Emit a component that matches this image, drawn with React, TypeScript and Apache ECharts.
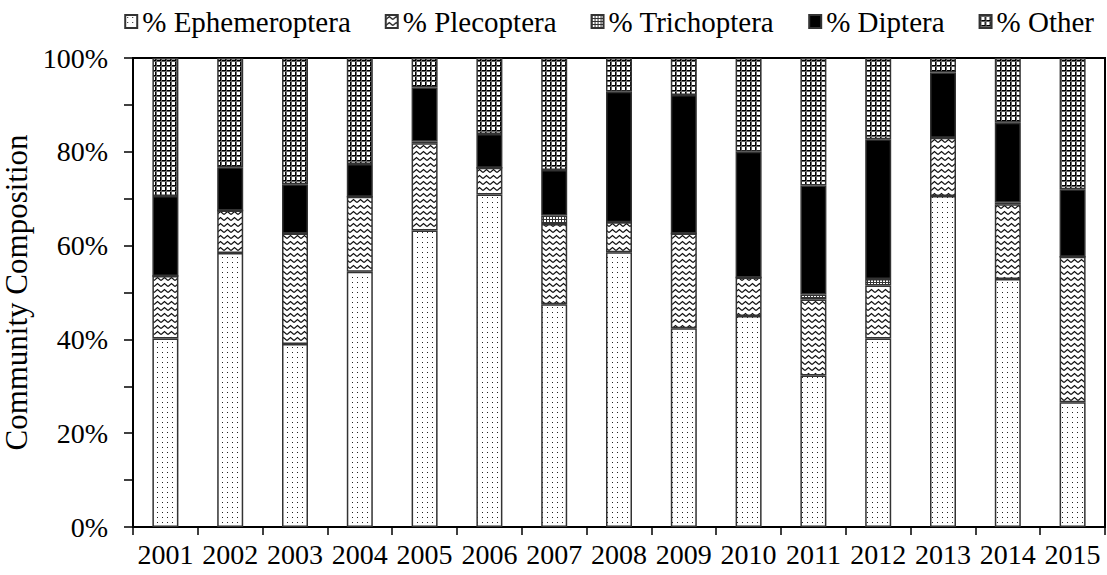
import React, { useEffect, useRef } from "react";
import * as echarts from "echarts";

const years = ["2001","2002","2003","2004","2005","2006","2007","2008","2009","2010","2011","2012","2013","2014","2015"];
const ephemeroptera = [40.2, 58.4, 39.0, 54.4, 63.2, 70.9, 47.5, 58.6, 42.4, 45.0, 32.3, 40.2, 70.6, 52.9, 26.6];
const plecoptera = [13.3, 9.1, 23.6, 16.0, 18.6, 5.7, 17.1, 6.4, 20.2, 8.2, 16.2, 11.3, 12.4, 15.9, 31.0];
const trichoptera = [0, 0, 0, 0, 0.4, 0, 1.8, 0, 0, 0, 1.1, 1.4, 0, 0.4, 0];
const diptera = [17.1, 9.2, 10.5, 7.0, 11.5, 7.2, 9.7, 27.8, 29.5, 26.8, 23.2, 29.8, 13.9, 17.0, 14.4];
const other = [29.4, 23.3, 26.9, 22.6, 6.3, 16.2, 23.9, 7.2, 7.9, 20.0, 27.2, 17.3, 3.1, 13.8, 28.0];
const yTicks = [0, 20, 40, 60, 80, 100];

function makeTile(w: number, h: number, draw: (ctx: CanvasRenderingContext2D) => void) {
  const c = document.createElement("canvas");
  c.width = w;
  c.height = h;
  const ctx = c.getContext("2d")!;
  ctx.fillStyle = "#fff";
  ctx.fillRect(0, 0, w, h);
  draw(ctx);
  return c;
}

function buildPatterns() {
  const dots = makeTile(5, 5, (ctx) => {
    ctx.fillStyle = "#222";
    ctx.fillRect(2, 2, 1, 1);
  });
  const wave = makeTile(7, 6, (ctx) => {
    ctx.strokeStyle = "#111";
    ctx.lineWidth = 1.3;
    ctx.beginPath();
    ctx.moveTo(0, 4.5);
    ctx.lineTo(3.5, 1.5);
    ctx.lineTo(7, 4.5);
    ctx.stroke();
  });
  const fine = makeTile(3, 3, (ctx) => {
    ctx.fillStyle = "#333";
    ctx.fillRect(0, 0, 3, 1);
    ctx.fillRect(0, 0, 1, 3);
  });
  const grid = makeTile(5, 5, (ctx) => {
    ctx.fillStyle = "#000";
    ctx.fillRect(0, 0, 5, 1);
    ctx.fillRect(0, 0, 1, 5);
    ctx.fillStyle = "#666";
    ctx.fillRect(0, 1, 5, 1);
    ctx.fillRect(1, 0, 1, 5);
  });
  return { dots, wave, fine, grid };
}

const FONT = "'Liberation Serif', 'Times New Roman', serif";

export default function App() {
  const ref = useRef<HTMLDivElement>(null);
  useEffect(() => {
    if (!ref.current) return;
    const chart = echarts.init(ref.current, undefined, { renderer: "svg" });
    const p = buildPatterns();
    const mk = (name: string, data: number[], color: any) => ({
      name,
      type: "bar",
      stack: "total",
      barWidth: 26,
      data,
      itemStyle: { color, borderColor: "#333", borderWidth: 1.5 },
    });
    chart.setOption({
      animation: false,
      backgroundColor: "#fff",
      textStyle: { fontFamily: FONT, color: "#000" },
      legend: {
        top: 2,
        right: 8,
        icon: "rect",
        itemWidth: 12,
        itemHeight: 13,
        itemGap: 34,
        textStyle: { fontFamily: FONT, fontSize: 29, color: "#000" },
        data: ["% Ephemeroptera", "% Plecoptera", "% Trichoptera", "% Diptera", "% Other"],
      },
      grid: {
        left: 133,
        right: 2,
        top: 58,
        bottom: 48,
        containLabel: false,
        outerBoundsMode: "none",
        show: true,
        borderColor: "#000",
        borderWidth: 2,
        backgroundColor: "transparent",
      },
      xAxis: {
        type: "category",
        data: years,
        boundaryGap: true,
        axisLine: { lineStyle: { color: "#000", width: 2 } },
        axisTick: { show: true, length: 8, lineStyle: { color: "#000", width: 1.5 } },
        axisLabel: { fontFamily: FONT, fontSize: 28, color: "#000", margin: 13, interval: 0 },
      },
      yAxis: {
        type: "value",
        min: 0,
        max: 100,
        interval: 10,
        name: "Community Composition",
        nameLocation: "middle",
        nameRotate: 90,
        nameGap: 82,
        nameTextStyle: { fontFamily: FONT, fontSize: 31, color: "#000" },
        splitLine: { show: false },
        axisLine: { show: true, lineStyle: { color: "#000", width: 2 } },
        axisTick: { show: true, length: 9, lineStyle: { color: "#000", width: 1.5 } },
        axisLabel: {
          fontFamily: FONT,
          fontSize: 28,
          color: "#000",
          margin: 25,
          formatter: (v: number) => (yTicks.indexOf(v) >= 0 ? v + "%" : ""),
        },
      },
      series: [
        mk("% Ephemeroptera", ephemeroptera, { image: p.dots, repeat: "repeat" }),
        mk("% Plecoptera", plecoptera, { image: p.wave, repeat: "repeat" }),
        mk("% Trichoptera", trichoptera, { image: p.fine, repeat: "repeat" }),
        mk("% Diptera", diptera, "#000"),
        mk("% Other", other, { image: p.grid, repeat: "repeat" }),
      ],
    });
    return () => chart.dispose();
  }, []);
  return (
    <div
      ref={ref}
      style={{ position: "absolute", left: 0, top: 0, width: 1107, height: 575 }}
    />
  );
}
